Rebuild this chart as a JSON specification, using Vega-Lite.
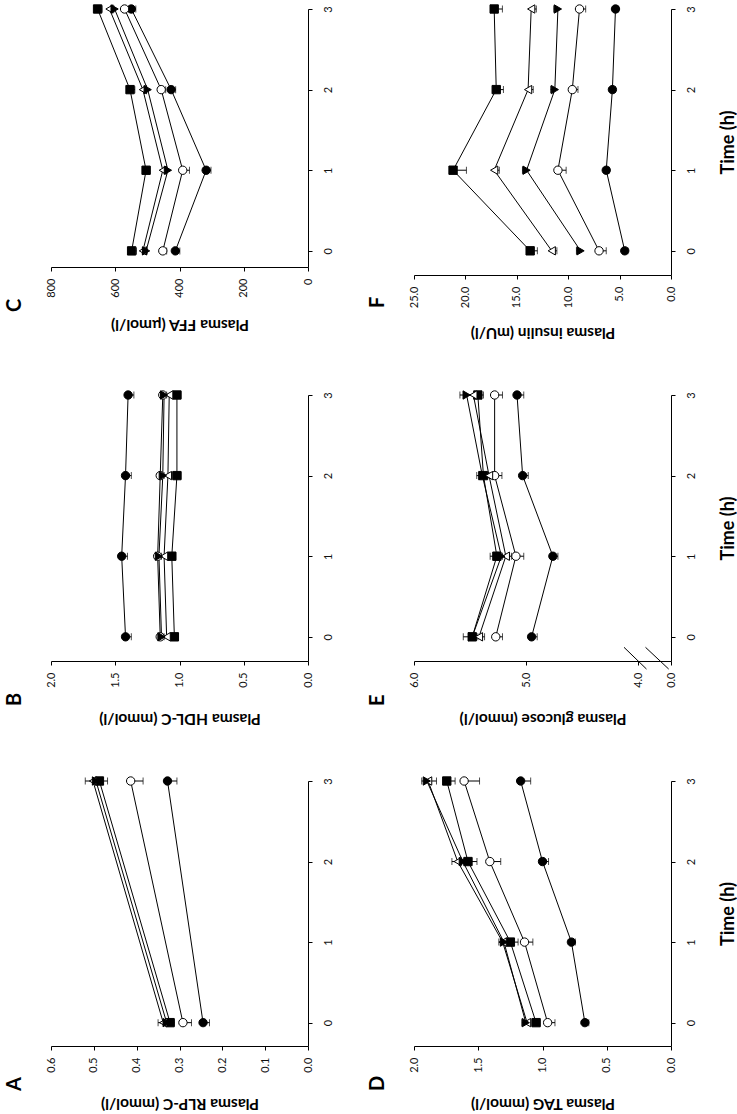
{
  "$schema": "https://vega.github.io/schema/vega-lite/v6.json",
  "background": "white",
  "padding": {"left": 4, "top": 2, "right": 0, "bottom": 6},
  "config": {
    "view": {"stroke": null},
    "font": "Lato",
    "axis": {
      "grid": false,
      "domainColor": "#000",
      "tickColor": "#000",
      "labelColor": "#111",
      "titleColor": "#000",
      "labelFont": "Lato",
      "titleFont": "Lato",
      "labelFontSize": 11,
      "titleFontSize": 15.5,
      "titleFontWeight": "bold",
      "tickSize": 4,
      "domainWidth": 1,
      "tickWidth": 1
    },
    "axisX": {"labelAngle": 270, "labelAlign": "right", "labelBaseline": "middle", "labelPadding": 7, "titleAngle": 180, "titleBaseline": "bottom", "titlePadding": 16, "minExtent": 33},
    "axisY": {"labelAngle": 270, "labelAlign": "center", "labelBaseline": "top", "labelPadding": 10, "titleAngle": 270, "titlePadding": 41, "titleFontSize": 18},
    "title": {"fontSize": 20, "fontWeight": "bold", "color": "#000", "font": "Lato", "orient": "left", "anchor": "start", "angle": 270, "offset": 20, "dx": 19}
  },
  "datasets": {
    "obs": [
      {"panel": "C", "series": "s1", "time": 0, "value": 413, "end": 399},
      {"panel": "C", "series": "s1", "time": 1, "value": 317, "end": 302},
      {"panel": "C", "series": "s1", "time": 2, "value": 426, "end": 412},
      {"panel": "C", "series": "s1", "time": 3, "value": 550, "end": 536},
      {"panel": "C", "series": "s2", "time": 0, "value": 452, "end": 440},
      {"panel": "C", "series": "s2", "time": 1, "value": 390, "end": 369},
      {"panel": "C", "series": "s2", "time": 2, "value": 457, "end": 443},
      {"panel": "C", "series": "s2", "time": 3, "value": 571, "end": 559},
      {"panel": "C", "series": "s3", "time": 0, "value": 549, "end": 534},
      {"panel": "C", "series": "s3", "time": 1, "value": 504, "end": 492},
      {"panel": "C", "series": "s3", "time": 2, "value": 554, "end": 539},
      {"panel": "C", "series": "s3", "time": 3, "value": 655, "end": 641},
      {"panel": "C", "series": "s4", "time": 0, "value": 514, "end": 500},
      {"panel": "C", "series": "s4", "time": 1, "value": 452, "end": 440},
      {"panel": "C", "series": "s4", "time": 2, "value": 514, "end": 502},
      {"panel": "C", "series": "s4", "time": 3, "value": 618, "end": 604},
      {"panel": "C", "series": "s5", "time": 0, "value": 504, "end": 516},
      {"panel": "C", "series": "s5", "time": 1, "value": 436, "end": 448},
      {"panel": "C", "series": "s5", "time": 2, "value": 499, "end": 511},
      {"panel": "C", "series": "s5", "time": 3, "value": 602, "end": 614},

      {"panel": "F", "series": "s1", "time": 0, "value": 4.5, "end": 4.2},
      {"panel": "F", "series": "s1", "time": 1, "value": 6.3, "end": 6.0},
      {"panel": "F", "series": "s1", "time": 2, "value": 5.7, "end": 5.4},
      {"panel": "F", "series": "s1", "time": 3, "value": 5.4, "end": 5.1},
      {"panel": "F", "series": "s2", "time": 0, "value": 7.0, "end": 6.3},
      {"panel": "F", "series": "s2", "time": 1, "value": 11.0, "end": 10.2},
      {"panel": "F", "series": "s2", "time": 2, "value": 9.6, "end": 9.05},
      {"panel": "F", "series": "s2", "time": 3, "value": 8.9, "end": 8.3},
      {"panel": "F", "series": "s3", "time": 0, "value": 13.7, "end": 13.0},
      {"panel": "F", "series": "s3", "time": 1, "value": 21.2, "end": 19.9},
      {"panel": "F", "series": "s3", "time": 2, "value": 17.0, "end": 16.3},
      {"panel": "F", "series": "s3", "time": 3, "value": 17.2, "end": 16.4},
      {"panel": "F", "series": "s4", "time": 0, "value": 11.6, "end": 11.1},
      {"panel": "F", "series": "s4", "time": 1, "value": 17.2, "end": 16.7},
      {"panel": "F", "series": "s4", "time": 2, "value": 13.9, "end": 13.4},
      {"panel": "F", "series": "s4", "time": 3, "value": 13.6, "end": 13.1},
      {"panel": "F", "series": "s5", "time": 0, "value": 8.8, "end": 9.2},
      {"panel": "F", "series": "s5", "time": 1, "value": 14.05, "end": 14.45},
      {"panel": "F", "series": "s5", "time": 2, "value": 11.3, "end": 11.7},
      {"panel": "F", "series": "s5", "time": 3, "value": 11.0, "end": 11.4},

      {"panel": "B", "series": "s1", "time": 0, "value": 1.42, "end": 1.375},
      {"panel": "B", "series": "s1", "time": 1, "value": 1.45, "end": 1.405},
      {"panel": "B", "series": "s1", "time": 2, "value": 1.42, "end": 1.375},
      {"panel": "B", "series": "s1", "time": 3, "value": 1.40, "end": 1.355},
      {"panel": "B", "series": "s2", "time": 0, "value": 1.15, "end": 1.12},
      {"panel": "B", "series": "s2", "time": 1, "value": 1.17, "end": 1.14},
      {"panel": "B", "series": "s2", "time": 2, "value": 1.15, "end": 1.12},
      {"panel": "B", "series": "s2", "time": 3, "value": 1.13, "end": 1.10},
      {"panel": "B", "series": "s3", "time": 0, "value": 1.04, "end": 1.01},
      {"panel": "B", "series": "s3", "time": 1, "value": 1.06, "end": 1.03},
      {"panel": "B", "series": "s3", "time": 2, "value": 1.02, "end": 0.99},
      {"panel": "B", "series": "s3", "time": 3, "value": 1.02, "end": 0.99},
      {"panel": "B", "series": "s4", "time": 0, "value": 1.10, "end": 1.07},
      {"panel": "B", "series": "s4", "time": 1, "value": 1.12, "end": 1.09},
      {"panel": "B", "series": "s4", "time": 2, "value": 1.09, "end": 1.06},
      {"panel": "B", "series": "s4", "time": 3, "value": 1.08, "end": 1.05},
      {"panel": "B", "series": "s5", "time": 0, "value": 1.14, "end": 1.17},
      {"panel": "B", "series": "s5", "time": 1, "value": 1.16, "end": 1.19},
      {"panel": "B", "series": "s5", "time": 2, "value": 1.13, "end": 1.16},
      {"panel": "B", "series": "s5", "time": 3, "value": 1.12, "end": 1.15},

      {"panel": "E", "series": "s1", "time": 0, "value": 4.95, "end": 4.90},
      {"panel": "E", "series": "s1", "time": 1, "value": 4.76, "end": 4.715},
      {"panel": "E", "series": "s1", "time": 2, "value": 5.03, "end": 4.98},
      {"panel": "E", "series": "s1", "time": 3, "value": 5.08, "end": 5.02},
      {"panel": "E", "series": "s2", "time": 0, "value": 5.27, "end": 5.21},
      {"panel": "E", "series": "s2", "time": 1, "value": 5.09, "end": 5.02},
      {"panel": "E", "series": "s2", "time": 2, "value": 5.28, "end": 5.215},
      {"panel": "E", "series": "s2", "time": 3, "value": 5.28, "end": 5.21},
      {"panel": "E", "series": "s3", "time": 0, "value": 5.48, "end": 5.43},
      {"panel": "E", "series": "s3", "time": 1, "value": 5.26, "end": 5.21},
      {"panel": "E", "series": "s3", "time": 2, "value": 5.38, "end": 5.33},
      {"panel": "E", "series": "s3", "time": 3, "value": 5.43, "end": 5.38},
      {"panel": "E", "series": "s4", "time": 0, "value": 5.42, "end": 5.37},
      {"panel": "E", "series": "s4", "time": 1, "value": 5.18, "end": 5.13},
      {"panel": "E", "series": "s4", "time": 2, "value": 5.33, "end": 5.28},
      {"panel": "E", "series": "s4", "time": 3, "value": 5.47, "end": 5.42},
      {"panel": "E", "series": "s5", "time": 0, "value": 5.48, "end": 5.56},
      {"panel": "E", "series": "s5", "time": 1, "value": 5.22, "end": 5.32},
      {"panel": "E", "series": "s5", "time": 2, "value": 5.39, "end": 5.44},
      {"panel": "E", "series": "s5", "time": 3, "value": 5.53, "end": 5.59},

      {"panel": "A", "series": "s1", "time": 0, "value": 0.245, "end": 0.23},
      {"panel": "A", "series": "s1", "time": 3, "value": 0.328, "end": 0.306},
      {"panel": "A", "series": "s2", "time": 0, "value": 0.292, "end": 0.272},
      {"panel": "A", "series": "s2", "time": 3, "value": 0.414, "end": 0.385},
      {"panel": "A", "series": "s3", "time": 0, "value": 0.322, "end": 0.312},
      {"panel": "A", "series": "s3", "time": 3, "value": 0.487, "end": 0.468},
      {"panel": "A", "series": "s4", "time": 0, "value": 0.338, "end": 0.326},
      {"panel": "A", "series": "s4", "time": 3, "value": 0.502, "end": 0.487},
      {"panel": "A", "series": "s5", "time": 0, "value": 0.330, "end": 0.35},
      {"panel": "A", "series": "s5", "time": 3, "value": 0.495, "end": 0.52},

      {"panel": "D", "series": "s1", "time": 0, "value": 0.67, "end": 0.64},
      {"panel": "D", "series": "s1", "time": 1, "value": 0.775, "end": 0.745},
      {"panel": "D", "series": "s1", "time": 2, "value": 1.00, "end": 0.953},
      {"panel": "D", "series": "s1", "time": 3, "value": 1.17, "end": 1.092},
      {"panel": "D", "series": "s2", "time": 0, "value": 0.96, "end": 0.903},
      {"panel": "D", "series": "s2", "time": 1, "value": 1.14, "end": 1.075},
      {"panel": "D", "series": "s2", "time": 2, "value": 1.41, "end": 1.325},
      {"panel": "D", "series": "s2", "time": 3, "value": 1.61, "end": 1.49},
      {"panel": "D", "series": "s3", "time": 0, "value": 1.05, "end": 1.02},
      {"panel": "D", "series": "s3", "time": 1, "value": 1.25, "end": 1.19},
      {"panel": "D", "series": "s3", "time": 2, "value": 1.58, "end": 1.51},
      {"panel": "D", "series": "s3", "time": 3, "value": 1.745, "end": 1.68},
      {"panel": "D", "series": "s4", "time": 0, "value": 1.12, "end": 1.09},
      {"panel": "D", "series": "s4", "time": 1, "value": 1.31, "end": 1.27},
      {"panel": "D", "series": "s4", "time": 2, "value": 1.66, "end": 1.61},
      {"panel": "D", "series": "s4", "time": 3, "value": 1.89, "end": 1.825},
      {"panel": "D", "series": "s5", "time": 0, "value": 1.13, "end": 1.16},
      {"panel": "D", "series": "s5", "time": 1, "value": 1.30, "end": 1.34},
      {"panel": "D", "series": "s5", "time": 2, "value": 1.62, "end": 1.705},
      {"panel": "D", "series": "s5", "time": 3, "value": 1.90, "end": 1.94}
    ],
    "axisBreak": [
      {"bx": 4.125, "bx2": 2.97, "by": -0.13, "by2": -0.40},
      {"bx": 3.09, "bx2": 0.28, "by": -0.13, "by2": -0.40}
    ]
  },
  "columns": 2,
  "spacing": {"row": 49, "column": 34},
  "concat": [
    {
      "width": 257, "height": 258,
      "title": {"text": "C"},
      "data": {"name": "obs"},
      "transform": [{"filter": "datum.panel === 'C'"}],
      "encoding": {
        "x": {"field": "value", "type": "quantitative", "title": "Plasma FFA (μmol/l)",
              "scale": {"domain": [0, 800], "reverse": true, "nice": false},
              "axis": {"values": [0, 200, 400, 600, 800], "format": "d"}},
        "y": {"field": "time", "type": "quantitative",
              "scale": {"domain": [-0.2, 3], "nice": false, "zero": false},
              "axis": {"orient": "right", "values": [0, 1, 2, 3], "format": "d", "title": null}}
      },
      "layer": [
        {"mark": {"type": "line", "color": "#000", "strokeWidth": 1}, "encoding": {"detail": {"field": "series"}, "order": {"field": "time"}}},
        {"mark": {"type": "rule", "color": "#000", "strokeWidth": 1}, "encoding": {"x2": {"field": "end"}}},
        {"mark": {"type": "tick", "orient": "vertical", "color": "#000", "size": 7, "thickness": 1},
         "encoding": {"x": {"field": "end", "type": "quantitative", "title": "Plasma FFA (μmol/l)"}}},
        {"mark": {"type": "point", "filled": true, "stroke": "#000", "strokeWidth": 1, "size": 70, "opacity": 1},
         "encoding": {
           "shape": {"field": "series", "type": "nominal", "legend": null,
                     "scale": {"domain": ["s1", "s2", "s3", "s4", "s5"], "range": ["circle", "circle", "square", "triangle-left", "triangle-right"]}},
           "fill": {"field": "series", "type": "nominal", "legend": null,
                    "scale": {"domain": ["s1", "s2", "s3", "s4", "s5"], "range": ["#000", "#fff", "#000", "#fff", "#000"]}}
         }}
      ]
    },
    {
      "width": 257, "height": 266,
      "title": {"text": "F", "dx": 31},
      "data": {"name": "obs"},
      "transform": [{"filter": "datum.panel === 'F'"}],
      "encoding": {
        "x": {"field": "value", "type": "quantitative", "title": "Plasma insulin (mU/l)",
              "scale": {"domain": [0, 25], "reverse": true, "nice": false},
              "axis": {"values": [0, 5, 10, 15, 20, 25], "format": ".1f"}},
        "y": {"field": "time", "type": "quantitative",
              "scale": {"domain": [-0.3, 3], "nice": false, "zero": false},
              "axis": {"orient": "right", "values": [0, 1, 2, 3], "format": "d", "title": "Time (h)"}}
      },
      "layer": [
        {"mark": {"type": "line", "color": "#000", "strokeWidth": 1}, "encoding": {"detail": {"field": "series"}, "order": {"field": "time"}}},
        {"mark": {"type": "rule", "color": "#000", "strokeWidth": 1}, "encoding": {"x2": {"field": "end"}}},
        {"mark": {"type": "tick", "orient": "vertical", "color": "#000", "size": 7, "thickness": 1},
         "encoding": {"x": {"field": "end", "type": "quantitative", "title": "Plasma insulin (mU/l)"}}},
        {"mark": {"type": "point", "filled": true, "stroke": "#000", "strokeWidth": 1, "size": 70, "opacity": 1},
         "encoding": {
           "shape": {"field": "series", "type": "nominal", "legend": null,
                     "scale": {"domain": ["s1", "s2", "s3", "s4", "s5"], "range": ["circle", "circle", "square", "triangle-left", "triangle-right"]}},
           "fill": {"field": "series", "type": "nominal", "legend": null,
                    "scale": {"domain": ["s1", "s2", "s3", "s4", "s5"], "range": ["#000", "#fff", "#000", "#fff", "#000"]}}
         }}
      ]
    },
    {
      "width": 257, "height": 266,
      "title": {"text": "B"},
      "data": {"name": "obs"},
      "transform": [{"filter": "datum.panel === 'B'"}],
      "encoding": {
        "x": {"field": "value", "type": "quantitative", "title": "Plasma HDL-C (mmol/l)",
              "scale": {"domain": [0, 2], "reverse": true, "nice": false},
              "axis": {"values": [0, 0.5, 1, 1.5, 2], "format": ".1f"}},
        "y": {"field": "time", "type": "quantitative",
              "scale": {"domain": [-0.3, 3], "nice": false, "zero": false},
              "axis": {"orient": "right", "values": [0, 1, 2, 3], "format": "d", "title": null}}
      },
      "layer": [
        {"mark": {"type": "line", "color": "#000", "strokeWidth": 1}, "encoding": {"detail": {"field": "series"}, "order": {"field": "time"}}},
        {"mark": {"type": "rule", "color": "#000", "strokeWidth": 1}, "encoding": {"x2": {"field": "end"}}},
        {"mark": {"type": "tick", "orient": "vertical", "color": "#000", "size": 7, "thickness": 1},
         "encoding": {"x": {"field": "end", "type": "quantitative", "title": "Plasma HDL-C (mmol/l)"}}},
        {"mark": {"type": "point", "filled": true, "stroke": "#000", "strokeWidth": 1, "size": 70, "opacity": 1},
         "encoding": {
           "shape": {"field": "series", "type": "nominal", "legend": null,
                     "scale": {"domain": ["s1", "s2", "s3", "s4", "s5"], "range": ["circle", "circle", "square", "triangle-left", "triangle-right"]}},
           "fill": {"field": "series", "type": "nominal", "legend": null,
                    "scale": {"domain": ["s1", "s2", "s3", "s4", "s5"], "range": ["#000", "#fff", "#000", "#fff", "#000"]}}
         }}
      ]
    },
    {
      "width": 257, "height": 266,
      "title": {"text": "E"},
      "data": {"name": "obs"},
      "transform": [{"filter": "datum.panel === 'E'"}],
      "encoding": {
        "x": {"field": "value", "type": "quantitative", "title": "Plasma glucose (mmol/l)",
              "scale": {"domain": [0, 4, 6], "range": [257, 224, 0], "nice": false, "zero": false},
              "axis": {"values": [0, 4, 5, 6], "format": ".1f"}},
        "y": {"field": "time", "type": "quantitative",
              "scale": {"domain": [-0.3, 3], "nice": false, "zero": false},
              "axis": {"orient": "right", "values": [0, 1, 2, 3], "format": "d", "title": "Time (h)"}}
      },
      "layer": [
        {"mark": {"type": "line", "color": "#000", "strokeWidth": 1}, "encoding": {"detail": {"field": "series"}, "order": {"field": "time"}}},
        {"mark": {"type": "rule", "color": "#000", "strokeWidth": 1}, "encoding": {"x2": {"field": "end"}}},
        {"mark": {"type": "tick", "orient": "vertical", "color": "#000", "size": 7, "thickness": 1},
         "encoding": {"x": {"field": "end", "type": "quantitative", "title": "Plasma glucose (mmol/l)"}}},
        {"mark": {"type": "point", "filled": true, "stroke": "#000", "strokeWidth": 1, "size": 70, "opacity": 1},
         "encoding": {
           "shape": {"field": "series", "type": "nominal", "legend": null,
                     "scale": {"domain": ["s1", "s2", "s3", "s4", "s5"], "range": ["circle", "circle", "square", "triangle-left", "triangle-right"]}},
           "fill": {"field": "series", "type": "nominal", "legend": null,
                    "scale": {"domain": ["s1", "s2", "s3", "s4", "s5"], "range": ["#000", "#fff", "#000", "#fff", "#000"]}}
         }},
        {"data": {"name": "axisBreak"},
         "mark": {"type": "rule", "color": "#000", "strokeWidth": 1},
         "encoding": {
           "x": {"field": "bx", "type": "quantitative", "title": "Plasma glucose (mmol/l)"},
           "x2": {"field": "bx2"},
           "y": {"field": "by", "type": "quantitative"},
           "y2": {"field": "by2"}
         }}
      ]
    },
    {
      "width": 257, "height": 265,
      "title": {"text": "A"},
      "data": {"name": "obs"},
      "transform": [{"filter": "datum.panel === 'A'"}],
      "encoding": {
        "x": {"field": "value", "type": "quantitative", "title": "Plasma RLP-C (mmol/l)",
              "scale": {"domain": [0, 0.6], "reverse": true, "nice": false},
              "axis": {"values": [0, 0.1, 0.2, 0.3, 0.4, 0.5, 0.6], "format": ".1f"}},
        "y": {"field": "time", "type": "quantitative",
              "scale": {"domain": [-0.29, 3], "nice": false, "zero": false},
              "axis": {"orient": "right", "values": [0, 1, 2, 3], "format": "d", "title": null}}
      },
      "layer": [
        {"mark": {"type": "line", "color": "#000", "strokeWidth": 1}, "encoding": {"detail": {"field": "series"}, "order": {"field": "time"}}},
        {"mark": {"type": "rule", "color": "#000", "strokeWidth": 1}, "encoding": {"x2": {"field": "end"}}},
        {"mark": {"type": "tick", "orient": "vertical", "color": "#000", "size": 7, "thickness": 1},
         "encoding": {"x": {"field": "end", "type": "quantitative", "title": "Plasma RLP-C (mmol/l)"}}},
        {"mark": {"type": "point", "filled": true, "stroke": "#000", "strokeWidth": 1, "size": 70, "opacity": 1},
         "encoding": {
           "shape": {"field": "series", "type": "nominal", "legend": null,
                     "scale": {"domain": ["s1", "s2", "s3", "s4", "s5"], "range": ["circle", "circle", "square", "triangle-left", "triangle-right"]}},
           "fill": {"field": "series", "type": "nominal", "legend": null,
                    "scale": {"domain": ["s1", "s2", "s3", "s4", "s5"], "range": ["#000", "#fff", "#000", "#fff", "#000"]}}
         }}
      ]
    },
    {
      "width": 257, "height": 265,
      "title": {"text": "D"},
      "data": {"name": "obs"},
      "transform": [{"filter": "datum.panel === 'D'"}],
      "encoding": {
        "x": {"field": "value", "type": "quantitative", "title": "Plasma TAG (mmol/l)",
              "scale": {"domain": [0, 2], "reverse": true, "nice": false},
              "axis": {"values": [0, 0.5, 1, 1.5, 2], "format": ".1f"}},
        "y": {"field": "time", "type": "quantitative",
              "scale": {"domain": [-0.29, 3], "nice": false, "zero": false},
              "axis": {"orient": "right", "values": [0, 1, 2, 3], "format": "d", "title": "Time (h)"}}
      },
      "layer": [
        {"mark": {"type": "line", "color": "#000", "strokeWidth": 1}, "encoding": {"detail": {"field": "series"}, "order": {"field": "time"}}},
        {"mark": {"type": "rule", "color": "#000", "strokeWidth": 1}, "encoding": {"x2": {"field": "end"}}},
        {"mark": {"type": "tick", "orient": "vertical", "color": "#000", "size": 7, "thickness": 1},
         "encoding": {"x": {"field": "end", "type": "quantitative", "title": "Plasma TAG (mmol/l)"}}},
        {"mark": {"type": "point", "filled": true, "stroke": "#000", "strokeWidth": 1, "size": 70, "opacity": 1},
         "encoding": {
           "shape": {"field": "series", "type": "nominal", "legend": null,
                     "scale": {"domain": ["s1", "s2", "s3", "s4", "s5"], "range": ["circle", "circle", "square", "triangle-left", "triangle-right"]}},
           "fill": {"field": "series", "type": "nominal", "legend": null,
                    "scale": {"domain": ["s1", "s2", "s3", "s4", "s5"], "range": ["#000", "#fff", "#000", "#fff", "#000"]}}
         }}
      ]
    }
  ]
}
